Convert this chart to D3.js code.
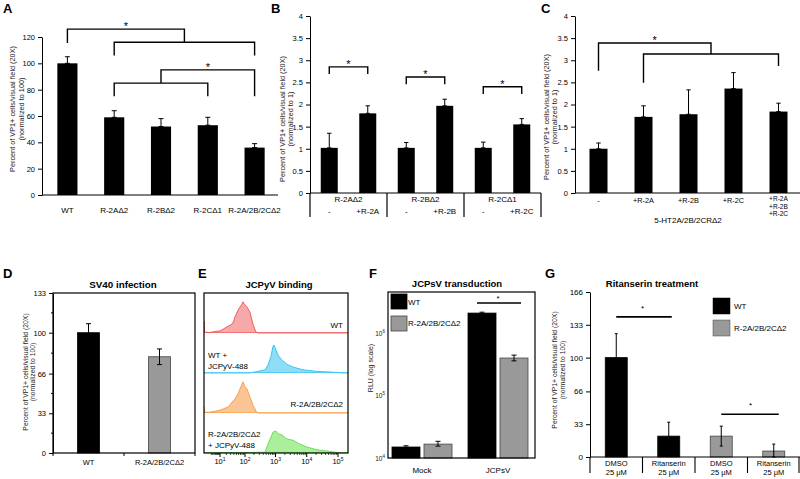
<!DOCTYPE html>
<html><head><meta charset="utf-8">
<script src="https://cdn.jsdelivr.net/npm/d3@7"></script>
<style>body{margin:0;background:#fff} svg text{font-family:"Liberation Sans",Arial,sans-serif}</style>
</head><body><svg id="c" width="800" height="479"></svg>
<script>
// ---------- DATA ----------
const aCats = ["WT","R-2A\u03942","R-2B\u03942","R-2C\u03941","R-2A/2B/2C\u03942"];
const aVals = [100,59,52,53,36];
const aErr  = [5,5,6,6,3];
const aTicks = [0,20,40,60,80,100,120];

const bGroups = ["R-2A\u03942","R-2B\u03942","R-2C\u03941"];
const bSubs = [["-","+R-2A"],["-","+R-2B"],["-","+R-2C"]];
const bVals = [[1.02,1.80],[1.02,1.97],[1.02,1.55]];
const bErr  = [[0.33,0.17],[0.12,0.15],[0.13,0.13]];
const bTicks = [0,0.5,1,1.5,2,2.5,3,3.5,4];

const cCats = [["-"],["+R-2A"],["+R-2B"],["+R-2C"],["+R-2A","+R-2B","+R-2C"]];
const cVals = [1.0,1.72,1.78,2.36,1.84];
const cErr  = [0.13,0.25,0.55,0.36,0.19];
const cTicks = [0,0.5,1,1.5,2,2.5,3,3.5,4];

const dCats = ["WT","R-2A/2B/2C\u03942"];
const dVals = [100,80];
const dErr  = [7.5,6.5];
const dTicks = [0,33,66,100,133];

// flow histograms: [intensity, % of row height]
const eRed    = [[-2.3,0],[-2.3,30],[-2,2],[1,1],[5,4],[10,5],[21,15],[34,22],[40,30],[44,40],[57,57],[70,67],[78,72],[85,78],[95,72],[117,65],[147,52],[185,22],[231,3],[270,0],[210000,0]];
const eBlue   = [[-2.3,0],[147,0],[458,8],[573,20],[717,42],[830,67],[895,70],[1036,58],[1201,45],[1618,32],[2330,22],[3640,15],[7600,8],[21300,4],[69300,2],[143000,0],[210000,0]];
const eOrange = [[-2.3,0],[-2.3,15],[-2,2],[1,2],[10,7],[24,15],[34,27],[44,35],[57,48],[78,72],[85,78],[100,65],[117,60],[147,40],[185,20],[240,3],[270,0],[210000,0]];
const eGreen  = [[-2.3,0],[458,2],[573,22],[717,40],[830,52],[1036,55],[1201,48],[1618,45],[2330,35],[3640,32],[6090,22],[10150,15],[21300,8],[44400,5],[115000,0],[210000,0]];
const eTicks = [10,100,1000,10000,100000];

const fGroups = ["Mock","JCPsV"];
const fSeries = ["WT","R-2A/2B/2C\u03942"];
const fVals  = [[1.5e4,1.67e4],[2.1e6,4.0e5]];
const fErrLo = [[1.43e4,1.55e4],[2.03e6,3.6e5]];
const fErrHi = [[1.57e4,1.85e4],[2.17e6,4.45e5]];
const fTicks = [1e4,1e5,1e6];

const gCats = [["DMSO","25 \u03bcM"],["Ritanserin","25 \u03bcM"],["DMSO","25 \u03bcM"],["Ritanserin","25 \u03bcM"]];
const gVals = [100,21,21,6];
const gErr  = [24,14,10,7];
const gSeriesIdx = [0,0,1,1];
const gTicks = [0,33,66,100,133,166];

// ---------- HELPERS ----------
const svg = d3.select("#c");
const FONT = "Liberation Sans, Arial, sans-serif";
const GRAY = "#999", GRAYS = "#444";

function letter(x,y,t){ svg.append("text").attr("x",x).attr("y",y).attr("font-size",13).attr("font-weight","bold").text(t); }
function ylabel(xs,cy,lines,fs){
  lines.forEach((l,i)=> svg.append("text").attr("transform",`translate(${xs[i]},${cy}) rotate(-90)`)
    .attr("text-anchor","middle").attr("font-size",fs).attr("fill","#222").text(l));
}
function bracket(x1,x2,y,y1,y2){
  svg.append("path").attr("d",`M${x1},${y1}V${y}H${x2}V${y2}`).attr("fill","none").attr("stroke","#000").attr("stroke-width",1.4);
}
function star(x,y,fs){ svg.append("text").attr("x",x).attr("y",y).attr("text-anchor","middle").attr("font-size",fs||11).text("*"); }
function errBar(x,yTop,yBot,cw,color){
  const g = svg.append("g").attr("stroke",color||"#000").attr("stroke-width",1);
  g.append("line").attr("x1",x).attr("x2",x).attr("y1",yTop).attr("y2",yBot);
  g.append("line").attr("x1",x-cw).attr("x2",x+cw).attr("y1",yTop).attr("y2",yTop);
  g.append("line").attr("x1",x-cw).attr("x2",x+cw).attr("y1",yBot).attr("y2",yBot);
}
function styleAxis(g,fs){ g.attr("font-family",FONT).attr("font-size",fs); g.selectAll("path,line").attr("stroke","#000"); }
function line(x1,y1,x2,y2,w){ svg.append("line").attr("x1",x1).attr("y1",y1).attr("x2",x2).attr("y2",y2).attr("stroke","#000").attr("stroke-width",w||1); }

// ---------- PANEL A ----------
letter(3,13,"A");
{
  const x = d3.scaleBand().domain(aCats).range([44,278]);
  const y = d3.scaleLinear().domain([0,120]).range([195,37]);
  const xc = i => x(aCats[i]) + x.bandwidth()/2;
  const bw = x.bandwidth()*0.43;
  svg.selectAll(".barA").data(aVals).join("rect").attr("x",(d,i)=>xc(i)-bw/2).attr("width",bw)
    .attr("y",d=>y(d)).attr("height",d=>y(0)-y(d)).attr("fill","#000");
  aVals.forEach((v,i)=>errBar(xc(i),y(v+aErr[i]),y(v),2.5));
  const ga = svg.append("g").attr("transform","translate(42,0)").call(d3.axisLeft(y).tickValues(aTicks).tickSize(4).tickSizeOuter(0));
  styleAxis(ga,7.5);
  line(42,195,278,195,1.2);
  aCats.forEach((c,i)=> svg.append("text").attr("x",xc(i)).attr("y",213).attr("text-anchor","middle").attr("font-size",8).text(c));
  ylabel([15,24],109,["Percent of VP1+ cells/visual field (20X)","(normalized to 100)"],7.3);
  const m14 = (xc(1)+xc(4))/2, m13 = (xc(1)+xc(3))/2;
  bracket(xc(0),m14,y(126),y(115.5),y(116));
  bracket(xc(1),xc(4),y(116),y(106),y(106));
  star((xc(0)+m14)/2,y(126)+1);
  bracket(m13,xc(4),y(95),y(85),y(75));
  bracket(xc(1),xc(3),y(85),y(75),y(75));
  star((m13+xc(4))/2,y(95)+1);
}

// ---------- PANEL B ----------
letter(271,13,"B");
{
  const xg = d3.scaleBand().domain(bGroups).range([310,541]);
  const xs = d3.scaleBand().domain([0,1]).range([0,xg.bandwidth()]);
  const y = d3.scaleLinear().domain([0,4]).range([193,16]);
  const cx = (g,s) => xg(bGroups[g]) + xs(s) + xs.bandwidth()/2;
  const bw = 17;
  bVals.forEach((pair,g)=>pair.forEach((v,s)=>{
    svg.append("rect").attr("x",cx(g,s)-bw/2).attr("width",bw).attr("y",y(v)).attr("height",y(0)-y(v)).attr("fill","#000");
    errBar(cx(g,s),y(v+bErr[g][s]),y(v),2.2);
  }));
  const gb = svg.append("g").attr("transform","translate(310,0)").call(d3.axisLeft(y).tickValues(bTicks).tickFormat(d3.format("~g")).tickSize(4).tickSizeOuter(0));
  styleAxis(gb,7.5);
  line(310,193,541,193,1.2);
  bGroups.forEach((gname,g)=>{
    const x0 = xg(gname);
    line(x0,193,x0,217,1.2);
    svg.append("text").attr("x",x0+xg.bandwidth()/2).attr("y",202).attr("text-anchor","middle").attr("font-size",8).text(gname);
    bSubs[g].forEach((s,si)=> svg.append("text").attr("x",cx(g,si)).attr("y",214).attr("text-anchor","middle").attr("font-size",8).text(s));
  });
  line(541,193,541,217,1.2);
  ylabel([285,293],119,["Percent of VP1+ cells/visual field (20X)","(normalized to 1)"],7.3);
  const bh = [[2.85,2.69],[2.62,2.46],[2.40,2.24]];
  bh.forEach((h,g)=>{ bracket(cx(g,0),cx(g,1),y(h[0]),y(h[1]),y(h[1])); star((cx(g,0)+cx(g,1))/2,y(h[0])+1); });
}

// ---------- PANEL C ----------
letter(541,13,"C");
{
  const idx = cVals.map((d,i)=>i);
  const x = d3.scaleBand().domain(idx).range([576,801]);
  const y = d3.scaleLinear().domain([0,4]).range([193,16]);
  const xc = i => x(i) + x.bandwidth()/2;
  const bw = 18;
  cVals.forEach((v,i)=>{
    svg.append("rect").attr("x",xc(i)-bw/2).attr("width",bw).attr("y",y(v)).attr("height",y(0)-y(v)).attr("fill","#000");
    errBar(xc(i),y(v+cErr[i]),y(v),2.2);
  });
  const gc = svg.append("g").attr("transform","translate(575,0)").call(d3.axisLeft(y).tickValues(cTicks).tickFormat(d3.format("~g")).tickSize(4).tickSizeOuter(0));
  styleAxis(gc,7.5);
  line(575,193,800,193,1.2);
  cCats.forEach((lines,i)=>{
    const multi = lines.length>1;
    const start = multi ? 201 : 203;
    lines.forEach((l,j)=> svg.append("text").attr("x",xc(i)).attr("y",start+j*7.7).attr("text-anchor","middle").attr("font-size",multi?6.6:7.3).text(l));
  });
  svg.append("text").attr("x",688).attr("y",223).attr("text-anchor","middle").attr("font-size",8).text("5-HT2A/2B/2CR\u03942");
  ylabel([549,557],117,["Percent of VP1+ cells/visual field (20X)","(normalized to 1)"],7.3);
  const m14 = (xc(1)+xc(4))/2;
  bracket(xc(0),m14,y(3.39),y(2.76),y(3.14));
  bracket(xc(1),xc(4),y(3.14),y(2.49),y(2.87));
  star((xc(0)+m14)/2,y(3.39)+1);
}

// ---------- PANEL D ----------
letter(3,278,"D");
{
  const x = d3.scaleBand().domain(dCats).range([53,195]);
  const y = d3.scaleLinear().domain([0,133]).range([453,293]);
  const xc = i => x(dCats[i]) + x.bandwidth()/2;
  const bw = 22;
  dVals.forEach((v,i)=>{
    svg.append("rect").attr("x",xc(i)-bw/2).attr("width",bw).attr("y",y(v)).attr("height",y(0)-y(v))
      .attr("fill",i?GRAY:"#000").attr("stroke",i?GRAYS:"#000").attr("stroke-width",0.8);
    errBar(xc(i),y(v+dErr[i]),y(v-dErr[i]),2.5);
  });
  svg.append("text").attr("x",123).attr("y",288).attr("text-anchor","middle").attr("font-size",9.8).attr("font-weight","bold").text("SV40 infection");
  const gd = svg.append("g").attr("transform","translate(53,0)").call(d3.axisLeft(y).tickValues(dTicks).tickSize(4).tickSizeOuter(0));
  styleAxis(gd,7.5);
  const minor = dTicks.slice(1).map((t,i)=>(t+dTicks[i])/2);
  minor.forEach(t=>line(51,y(t),53,y(t),1));
  svg.append("rect").attr("x",53).attr("y",293).attr("width",142).attr("height",160).attr("fill","none").attr("stroke","#000").attr("stroke-width",1.2);
  [53,124,195].forEach(t=>line(t,453,t,456,1));
  dCats.forEach((c,i)=> svg.append("text").attr("x",xc(i)).attr("y",465).attr("text-anchor","middle").attr("font-size",7.5).text(c));
  ylabel([28,35],372,["Percent of VP1+ cells/visual field (20X)","(normalized to 100)"],6.8);
}

// ---------- PANEL E ----------
letter(198,278,"E");
{
  const x = d3.scaleSymlog().constant(7).domain([10,100000]).range([220,338]);
  const top = 293, rowH = 40;
  svg.append("defs").append("clipPath").attr("id","clipE").append("rect").attr("x",204).attr("y",293).attr("width",144).attr("height",160);
  const rows = [
    {data:eRed, fill:"#f7a9a9", stroke:"#ef4f4f"},
    {data:eBlue, fill:"#8fdcf6", stroke:"#2ec2f0"},
    {data:eOrange, fill:"#f9c595", stroke:"#f39a45"},
    {data:eGreen, fill:"#abef9c", stroke:"#62db4d"}
  ];
  const gE = svg.append("g").attr("clip-path","url(#clipE)");
  rows.forEach((r,i)=>{
    const base = top + rowH*(i+1);
    const yr = d3.scaleLinear().domain([0,100]).range([base,base-rowH]);
    gE.append("path").datum(r.data).attr("fill",r.fill)
      .attr("d",d3.area().x(d=>x(d[0])).y0(base).y1(d=>yr(d[1])));
    gE.append("path").datum(r.data).attr("fill","none").attr("stroke",r.stroke).attr("stroke-width",0.9)
      .attr("d",d3.line().x(d=>x(d[0])).y(d=>yr(d[1])));
    gE.append("line").attr("x1",204).attr("x2",348).attr("y1",base-0.5).attr("y2",base-0.5).attr("stroke",r.stroke).attr("stroke-width",0.6);
  });
  svg.append("rect").attr("x",204).attr("y",293).attr("width",144).attr("height",160).attr("fill","none").attr("stroke","#000").attr("stroke-width",1.2);
  svg.append("text").attr("x",279).attr("y",288).attr("text-anchor","middle").attr("font-size",9.5).attr("font-weight","bold").text("JCPyV binding");
  eTicks.forEach(t=>{
    line(x(t),453,x(t),457,1);
    const tx = svg.append("text").attr("x",x(t)).attr("y",464).attr("text-anchor","middle").attr("font-size",7.5);
    tx.append("tspan").text("10");
    tx.append("tspan").attr("dy",-3).attr("font-size",5).text(String(Math.round(Math.log10(t))));
  });
  for(let k=0;k<5;k++) for(let m=2;m<10;m++){ const v=m*Math.pow(10,k); line(x(v),453,x(v),455,0.7); }
  const tl = (x0,y0,t,anchor)=>svg.append("text").attr("x",x0).attr("y",y0).attr("text-anchor",anchor).attr("font-size",8).text(t);
  tl(343,328,"WT","end");
  tl(208,358,"WT +","start"); tl(208,369,"JCPyV-488","start");
  tl(343,407,"R-2A/2B/2C\u03942","end");
  tl(208,437,"R-2A/2B/2C\u03942","start"); tl(208,448,"+ JCPyV-488","start");
}

// ---------- PANEL F ----------
letter(369,278,"F");
{
  const xg = d3.scaleBand().domain(fGroups).range([384,536]);
  const xs = d3.scaleBand().domain([0,1]).range([6,70]);
  const y = d3.scaleLog().domain([1e4,Math.pow(10,6.66)]).range([458,292]);
  const cx = (g,s) => xg(fGroups[g]) + xs(s) + xs.bandwidth()/2;
  const bw = 28;
  fVals.forEach((pair,g)=>pair.forEach((v,s)=>{
    svg.append("rect").attr("x",cx(g,s)-bw/2).attr("width",bw).attr("y",y(v)).attr("height",y(1e4)-y(v))
      .attr("fill",s?GRAY:"#000").attr("stroke",s?GRAYS:"#000").attr("stroke-width",0.8);
    errBar(cx(g,s),y(fErrHi[g][s]),y(fErrLo[g][s]),2.5);
  }));
  svg.append("rect").attr("x",388).attr("y",292).attr("width",147).attr("height",166).attr("fill","none").attr("stroke","#000").attr("stroke-width",1.2);
  svg.append("text").attr("x",457).attr("y",287).attr("text-anchor","middle").attr("font-size",9.5).attr("font-weight","bold").text("JCPsV transduction");
  fTicks.forEach(t=>{
    const tx = svg.append("text").attr("x",385).attr("y",y(t)+2.5).attr("text-anchor","end").attr("font-size",6.5).attr("fill","#222");
    tx.append("tspan").text("10");
    tx.append("tspan").attr("dy",-3).attr("font-size",4.5).text(String(Math.round(Math.log10(t))));
  });
  ylabel([373],368,["RLU (log scale)"],7);
  fGroups.forEach((gname,g)=> svg.append("text").attr("x",xg(gname)+xg.bandwidth()/2).attr("y",473).attr("text-anchor","middle").attr("font-size",8).text(gname));
  line(cx(1,0)-5,303,cx(1,1)+7,303,1.6);
  star((cx(1,0)+cx(1,1))/2,301,8);
  fSeries.forEach((s,i)=>{
    svg.append("rect").attr("x",391).attr("y",294+i*22).attr("width",16).attr("height",15)
      .attr("fill",i?GRAY:"#000").attr("stroke",i?GRAYS:"#000").attr("stroke-width",0.8);
    svg.append("text").attr("x",408).attr("y",305+i*21).attr("font-size",8).text(s);
  });
}

// ---------- PANEL G ----------
letter(545,278,"G");
{
  const idx = gVals.map((d,i)=>i);
  const x = d3.scaleBand().domain(idx).range([590,800]);
  const y = d3.scaleLinear().domain([0,166]).range([457,292]);
  const xc = i => x(i) + x.bandwidth()/2;
  const bw = 22;
  gVals.forEach((v,i)=>{
    const gray = gSeriesIdx[i]===1;
    svg.append("rect").attr("x",xc(i)-bw/2).attr("width",bw).attr("y",y(v)).attr("height",y(0)-y(v))
      .attr("fill",gray?GRAY:"#000").attr("stroke",gray?GRAYS:"#000").attr("stroke-width",0.8);
    errBar(xc(i),y(v+gErr[i]),y(Math.max(0,v-gErr[i])),1.5);
  });
  const gg = svg.append("g").attr("transform","translate(590,0)").call(d3.axisLeft(y).tickValues(gTicks).tickSize(4).tickSizeOuter(0));
  styleAxis(gg,8);
  line(590,457,800,457,1.2);
  idx.forEach(i=>line(x(i),457,x(i),473,1.1));
  line(799,457,799,473,1.1);
  gCats.forEach((lines,i)=>lines.forEach((l,j)=> svg.append("text").attr("x",xc(i)).attr("y",466+j*9).attr("text-anchor","middle").attr("font-size",7.5).text(l)));
  svg.append("text").attr("x",652).attr("y",287).attr("text-anchor","middle").attr("font-size",9.5).attr("font-weight","bold").text("Ritanserin treatment");
  ylabel([557,565],370,["Percent of VP1+ cells/visual field (20X)","(normalized to 100)"],6.8);
  line(xc(0),y(141),xc(1)+3,y(141),1.6); star((xc(0)+xc(1))/2,y(141)-6,8);
  line(xc(2),y(43),xc(3)+5,y(43),1.6); star((xc(2)+xc(3))/2+3,y(43)-6,8);
  ["WT","R-2A/2B/2C\u03942"].forEach((s,i)=>{
    svg.append("rect").attr("x",713).attr("y",298+i*22).attr("width",17).attr("height",16)
      .attr("fill",i?GRAY:"#000").attr("stroke",i?GRAYS:"#000").attr("stroke-width",0.5);
    svg.append("text").attr("x",734).attr("y",309+i*22).attr("font-size",8).text(s);
  });
}
</script></body></html>
